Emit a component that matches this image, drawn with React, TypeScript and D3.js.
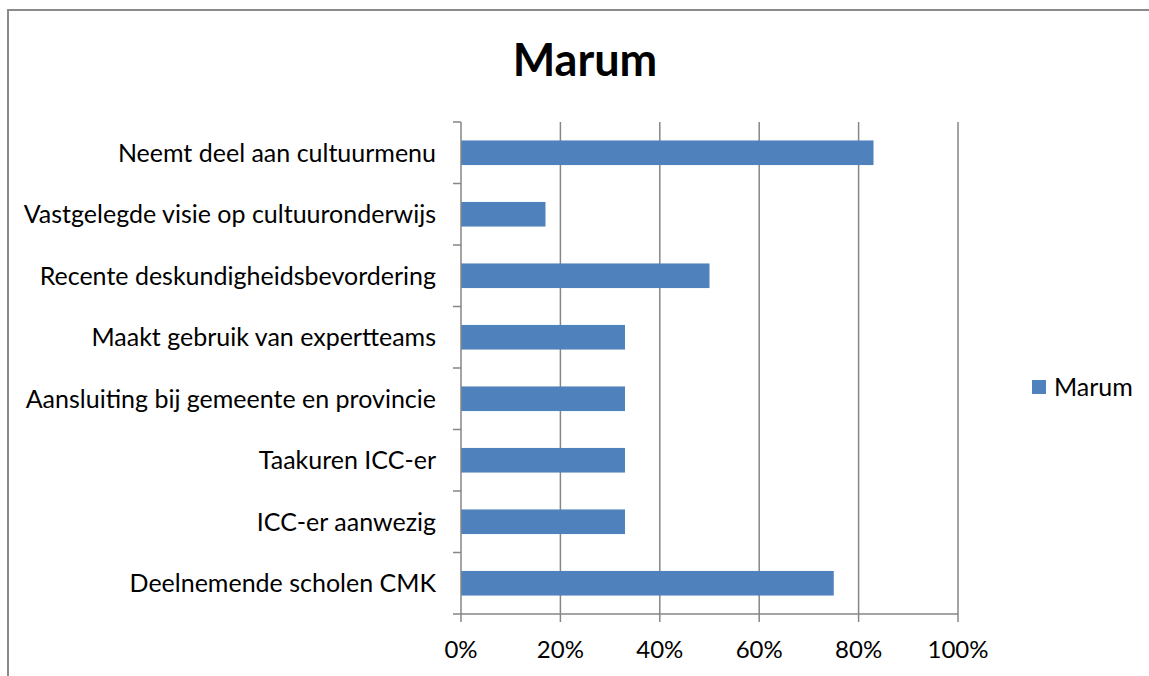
import React from "react";
import * as d3 from "d3";

const categories = [
  "Neemt deel aan cultuurmenu",
  "Vastgelegde visie op cultuuronderwijs",
  "Recente deskundigheidsbevordering",
  "Maakt gebruik van expertteams",
  "Aansluiting bij gemeente en provincie",
  "Taakuren ICC-er",
  "ICC-er aanwezig",
  "Deelnemende scholen CMK",
];
const values = [0.83, 0.17, 0.5, 0.33, 0.33, 0.33, 0.33, 0.75];
const xTicks = [0, 0.2, 0.4, 0.6, 0.8, 1.0];
const seriesName = "Marum";
const title = "Marum";

const W = 1149;
const H = 676;
const FONT = "Lato, 'Open Sans', sans-serif";
const BAR = "#4F81BD";
const GRID = "#868686";

export default function App() {
  const x = d3.scaleLinear().domain([0, 1]).range([461, 958]);
  const y = d3.scaleBand().domain(categories).range([122, 614]).paddingInner(0.6).paddingOuter(0.3);
  const yEdges = d3.range(categories.length + 1).map((i) => 122 + (i * (614 - 122)) / categories.length);
  const fmt = d3.format(".0%");
  return (
    <svg
      width={W}
      height={H}
      style={{ position: "absolute", left: 0, top: 0, background: "#fff" }}
      fontFamily={FONT}
    >
      <rect x={0} y={0} width={W} height={H} fill="#fff" />
      <rect x={8} y={10} width={W + 20} height={H + 20} fill="none" stroke="#8a8a8a" strokeWidth={2} />
      <text x={585} y={76} textAnchor="middle" fontSize={45} fontWeight="bold" fill="#000">
        {title}
      </text>
      {xTicks.map((t) => (
        <g key={t}>
          {t > 0 && <line x1={x(t)} x2={x(t)} y1={122} y2={614} stroke={GRID} strokeWidth={1.5} />}
          <line x1={x(t)} x2={x(t)} y1={614} y2={622} stroke={GRID} strokeWidth={1.5} />
          <text x={x(t)} y={658} textAnchor="middle" fontSize={24} fill="#000">
            {fmt(t)}
          </text>
        </g>
      ))}
      {categories.map((c, i) => (
        <rect key={c} x={x(0)} y={y(c)} width={x(values[i]) - x(0)} height={y.bandwidth()} fill={BAR} />
      ))}
      <line x1={461} x2={461} y1={122} y2={614} stroke={GRID} strokeWidth={1.5} />
      <line x1={461} x2={958} y1={614} y2={614} stroke={GRID} strokeWidth={1.5} />
      {yEdges.map((e, i) => (
        <line key={i} x1={453} x2={461} y1={e} y2={e} stroke={GRID} strokeWidth={1.5} />
      ))}
      {categories.map((c) => (
        <text key={c} x={436} y={(y(c) as number) + y.bandwidth() / 2 + 9} textAnchor="end" fontSize={25} fill="#000">
          {c}
        </text>
      ))}
      <rect x={1032} y={380} width={14} height={14} fill={BAR} />
      <text x={1054} y={396} fontSize={25} fill="#000">
        {seriesName}
      </text>
    </svg>
  );
}
